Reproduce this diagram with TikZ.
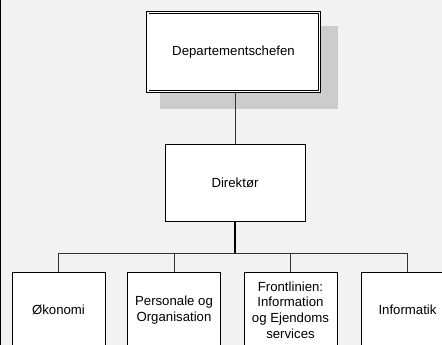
\documentclass[tikz,border=0pt]{standalone}
\usepackage{fontspec}
\setmainfont{Liberation Sans}
\definecolor{bgcol}{HTML}{F2F2F2}
\definecolor{shadowcol}{HTML}{CCCCCC}
\definecolor{linecol}{HTML}{333333}
\tikzset{
  orgbox/.style={draw=black, line width=0.9pt, fill=white, inner sep=0pt, align=center,
    font=\fontsize{13.2}{15.7}\selectfont},
  unitbox/.style={orgbox, minimum width=93pt, minimum height=76pt},
  conn/.style={draw=linecol, line width=0.9pt},
  mainconn/.style={draw=black, line width=2pt}
}
\begin{document}
\begin{tikzpicture}[x=1pt,y=-1pt]
\useasboundingbox (0,0) rectangle (442,345);
\fill[bgcol] (0,0) rectangle (442,345);
\clip (0,0) rectangle (442,345);
% shadow of top box
\fill[shadowcol] (160,26) rectangle (338,109);
% top box
\node[orgbox, double, double distance=1.6pt, minimum width=171.6pt, minimum height=79.2pt] (top) at (233.5,52) {Departementschefen};
% director
\node[orgbox, minimum width=140pt, minimum height=77pt] (dir) at (235,182.5) {Direktør};
% units
\node[unitbox] (b1) at (58.5,310) {Økonomi};
\node[unitbox] (b2) at (174,310) {Personale og\\Organisation};
\node[unitbox] (b3) at (290.5,310) {Frontlinien:\\Information\\og Ejendoms\\services};
\node[unitbox] (b4) at (407.5,310) {Informatik};
\coordinate (bus) at (235,253);
% connectors
\draw[conn] (dir.north) -- (dir.north |- top.south);
\draw[mainconn] (dir.south) -- (bus);
\draw[conn] (b1.north) |- (bus);
\draw[conn] (b4.north) |- (bus);
\draw[conn] (b2.north) -- (b2.north |- bus);
\draw[conn] (b3.north) -- (b3.north |- bus);
% left frame line
\draw[black, line width=1.4pt] (0.7,0) -- (0.7,345);
\end{tikzpicture}
\end{document}
